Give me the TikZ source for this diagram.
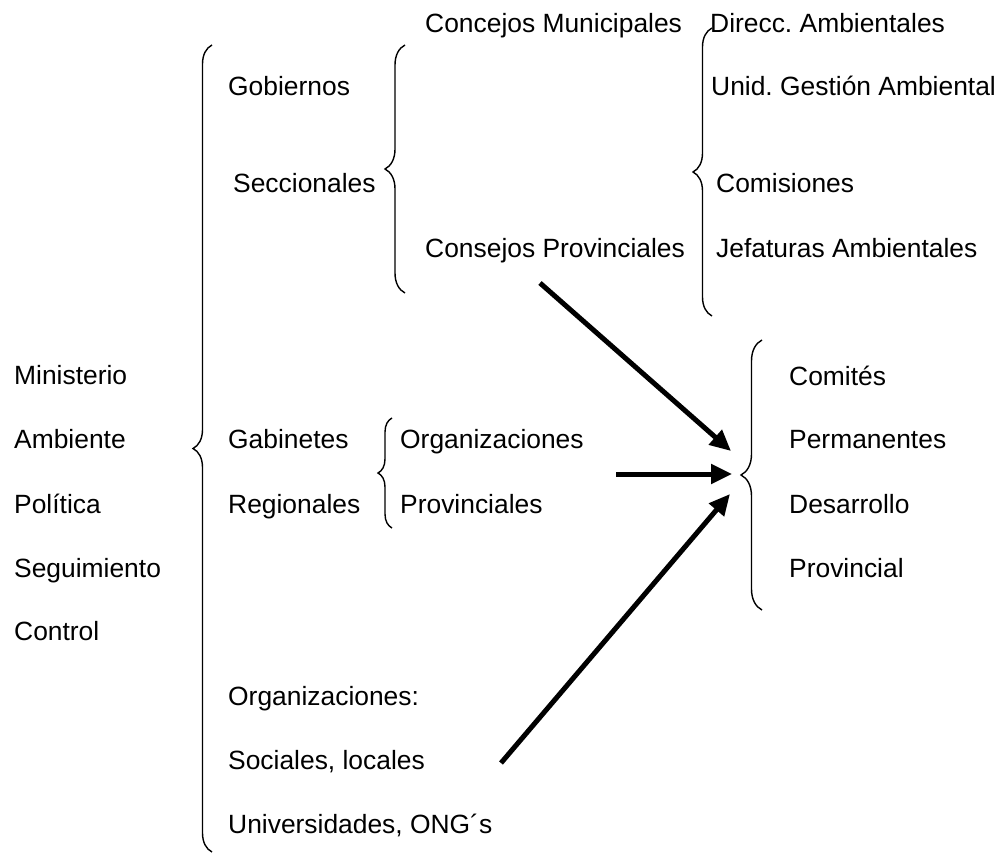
\documentclass[tikz,border=0pt]{standalone}
\usepackage{fontspec}
\setmainfont{Liberation Sans}
\usetikzlibrary{arrows.meta,decorations.pathreplacing}
\usetikzlibrary{positioning}
\frenchspacing

\begin{document}
\begin{tikzpicture}[x=1pt, y=-1pt, >={Triangle[length=21pt,width=19pt]},
    font=\fontsize{26.4}{30}\selectfont]

    \tikzstyle{entry}=[inner sep=0pt, anchor=base west];
    \tikzset{curly/.style={draw, line width=1.4pt, decorate, decoration={brace, amplitude=#1}}}
    \tikzstyle{flow}=[->, line width=5pt];

    \useasboundingbox (0,0) rectangle (1004,856);

    \node [entry](min) at (14, 384){Ministerio};
    \node [entry](amb) at (14, 448){Ambiente};
    \node [entry](pol) at (14, 513){Política};
    \node [entry](seg) at (14, 577){Seguimiento};
    \node [entry](ctl) at (14, 640){Control};

    \node [entry](gob) at (228, 96){Gobiernos};
    \node [entry](secc) at (233, 193){Seccionales};
    \node [entry](gab) at (228, 448){Gabinetes};
    \node [entry](reg) at (228, 513){Regionales};
    \node [entry](orgs) at (228, 705){Organizaciones:};
    \node [entry](soc) at (228, 769){Sociales, locales};
    \node [entry](univ) at (228, 833){Universidades, ONG´s};

    \node [entry](conc) at (425, 33){Concejos Municipales};
    \node [entry](cons) at (425, 257){Consejos Provinciales};

    \node [entry](dir) at (710, 33){Direcc. Ambientales};
    \node [entry](unid) at (711, 96){Unid. Gestión Ambiental};
    \node [entry](com) at (716, 193){Comisiones};
    \node [entry](jef) at (716, 257){Jefaturas Ambientales};

    \node [entry](orgp) at (400, 448){Organizaciones};
    \node [entry](prov) at (400, 513){Provinciales};

    \node [entry](comi) at (789, 385){Comités};
    \node [entry](perm) at (789, 448){Permanentes};
    \node [entry](des) at (789, 513){Desarrollo};
    \node [entry](provl) at (789, 577){Provincial};

    \draw [curly=19] (212, 852) -- (212, 45);
    \draw [curly=20] (405, 293) -- (405, 45);
    \draw [curly=19] (712, 316) -- (712, 28);
    \draw [curly=14] (392, 528) -- (392, 418);
    \draw [curly=21] (762, 610) -- (762, 340);

    \coordinate (s1) at (540, 283);
    \coordinate (s2) at (616, 474);
    \coordinate (s3) at (501, 763);
    \coordinate (t1) at (731, 451);
    \coordinate (t2) at (732, 474);
    \coordinate (t3) at (730, 494);

    \draw [flow] (s1) to (t1);
    \draw [flow] (s2) to (t2);
    \draw [flow] (s3) to (t3);

\end{tikzpicture}
\end{document}
